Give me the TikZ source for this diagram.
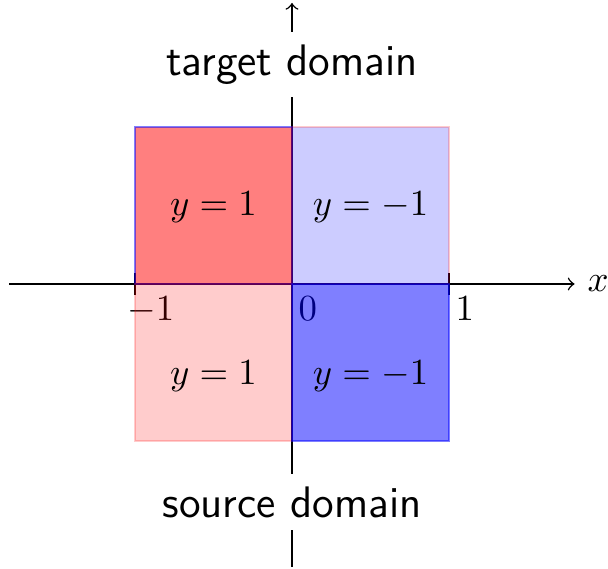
\documentclass[tikz,border=0pt]{standalone}
\usepackage{tikz}
\usetikzlibrary{positioning}

\tikzset{
    axisline/.style={->},
    ticklabel/.style={anchor=north, xshift=4.3pt},
    domainlabel/.style={fill=white, font=\sffamily\large},
}

\begin{document}
\begin{tikzpicture}[x=1.5cm,y=1.5cm]
    \useasboundingbox (-1.860,-1.815) rectangle (2.013,1.809);
    % axes
    \coordinate (xleft) at (-1.8,0);
    \coordinate (xright) at (1.8,0);
    \coordinate (ybottom) at (0,-1.8);
    \coordinate (ytop) at (0,1.79);
    \draw[axisline] (xleft) -- (xright);
    \draw[axisline] (ybottom) -- (ytop);
    \node[anchor=west] (xlabel) at (xright) {$x$};
    % ticks
    \draw (-1,-0.07) -- (-1,0.07);
    \draw (1,-0.07) -- (1,0.07);
    \node[ticklabel] (tickm) at (-1,0) {$-1$};
    \node[ticklabel] (tickz) at (0,0) {$0$};
    \node[ticklabel] (tickp) at (1,0) {$1$};
    % quadrants
    \draw[fill=red, draw=blue, opacity=0.5] (-1,0) rectangle (0,1);
    \draw[fill=blue, draw=red, opacity=0.2] (0,0) rectangle (1,1);
    \draw[fill=red, draw=red, opacity=0.2] (-1,-1) rectangle (0,0);
    \draw[fill=blue, draw=blue, opacity=0.5] (0,-1) rectangle (1,0);
    \node (tl) at (-0.5,0.49) {$y=1$};
    \node (tr) at (0.5,0.49) {$y=-1$};
    \node (bl) at (-0.5,-0.585) {$y=1$};
    \node (br) at (0.5,-0.585) {$y=-1$};
    % domains
    \node[domainlabel] (target) at (0,1.398) {target domain};
    \node[domainlabel] (source) at (0,-1.389) {source domain};
\end{tikzpicture}
\end{document}
